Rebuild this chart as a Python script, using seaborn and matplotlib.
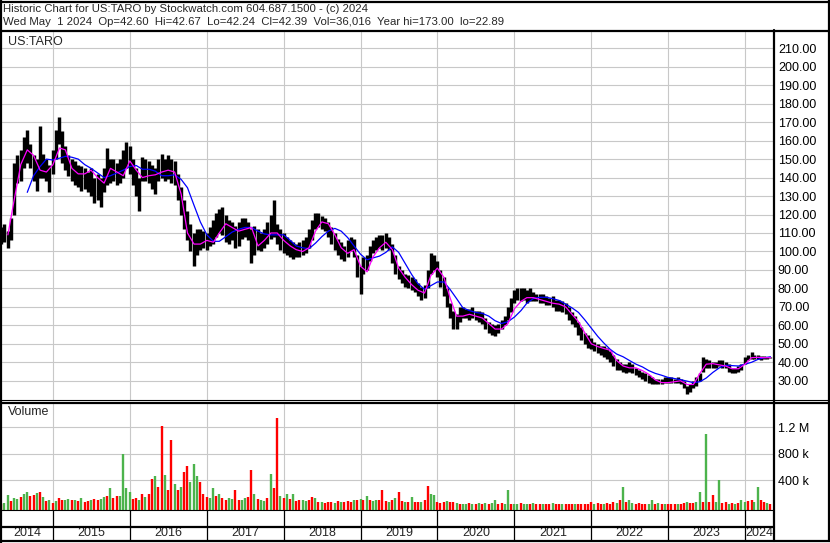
import matplotlib
matplotlib.use("Agg")
import matplotlib.pyplot as plt
from matplotlib.lines import Line2D
import numpy as np
import pandas as pd
import seaborn as sns

sns.set_style("white")
plt.rcParams["font.family"] = ["Liberation Sans", "DejaVu Sans"]

# ---------------- data ----------------
title_line1 = "Historic Chart for US:TARO by Stockwatch.com 604.687.1500 - (c) 2024"
title_line2 = ("Wed May  1 2024  Op=42.60  Hi=42.67  Lo=42.24  Cl=42.39  "
               "Vol=36,016  Year hi=173.00  lo=22.89")
symbol = "US:TARO"
volume_title = "Volume"

# semi-monthly high / low of price (May 2014 .. May 2024)
price_hi = [
    113, 115, 111, 118, 148, 152, 155, 162, 166, 158, 152, 150, 168, 153, 150, 147,
    155, 166, 173, 165, 157, 152, 150, 149, 147, 146, 145, 143, 145, 140, 142, 140, 145, 156, 150, 150, 148, 150, 155, 159,
    157, 150, 145, 140, 151, 150, 149, 147, 145, 150, 153, 150, 152, 150, 149, 142, 135, 128, 122, 115, 110, 112, 112, 111,
    110, 113, 117, 121, 123, 124, 120, 117, 116, 114, 116, 118, 118, 116, 112, 114, 112, 110, 112, 116, 120, 128, 115, 112,
    110, 108, 106, 105, 104, 105, 106, 108, 112, 117, 121, 121, 119, 118, 116, 113, 110, 107, 105, 103, 106, 108, 107, 98,
    92, 97, 98, 103, 106, 108, 109, 109, 110, 108, 104, 98, 92, 90, 88, 87, 86, 85, 83, 81, 82, 90, 99, 98,
    95, 90, 86, 80, 72, 68, 66, 70, 70, 69, 69, 70, 68, 68, 67, 64, 62, 61, 60, 61, 63, 65, 70, 75,
    79, 80, 80, 80, 79, 80, 78, 77, 77, 77, 76, 75, 76, 74, 74, 73, 72, 70, 67, 65, 62, 59, 56, 55,
    53, 51, 50, 49, 49, 48, 46, 44, 42, 40, 39, 39, 40, 39, 37, 36, 35, 34, 33, 32, 31, 31, 31, 32,
    32, 32, 31, 32, 31, 30, 27, 28, 30, 32, 34, 43, 42, 41, 40, 40, 41, 41, 40, 39, 37, 37, 38, 39,
    43, 44, 45.5, 44, 44, 43.5, 43.5, 43, 42.7,
]
price_lo = [
    104, 105, 102, 106, 120, 137, 138, 145, 148, 145, 138, 133, 140, 140, 138, 132,
    142, 150, 158, 148, 144, 141, 138, 136, 135, 133, 134, 132, 130, 126, 128, 124, 132, 136, 137, 138, 136, 137, 140, 145,
    142, 136, 130, 122, 138, 138, 137, 134, 131, 138, 140, 138, 139, 137, 136, 128, 120, 112, 106, 100, 92, 98, 101, 102,
    101, 103, 104, 108, 110, 109, 105, 104, 106, 102, 103, 107, 108, 106, 94, 98, 101, 100, 102, 104, 107, 108, 104, 101,
    99, 98, 97, 96, 97, 97, 98, 99, 102, 106, 112, 113, 112, 111, 108, 104, 101, 98, 96, 95, 97, 100, 97, 86,
    77, 88, 90, 95, 99, 101, 102, 101, 102, 101, 94, 88, 85, 83, 81, 80, 79, 78, 76, 74, 75, 80, 88, 90,
    86, 81, 76, 70, 64, 58, 58, 62, 64, 64, 63, 64, 63, 62, 61, 58, 56, 55, 54, 56, 58, 60, 63, 67,
    72, 74, 73, 74, 72, 73, 73, 73, 72, 72, 71, 71, 70, 68, 68, 67, 66, 63, 61, 59, 55, 52, 50, 48,
    47, 46, 45, 44, 43, 42, 40, 38, 36, 36, 35, 34, 35, 34, 33, 32, 31, 30, 29, 28, 28, 28, 28, 29,
    29, 29, 29, 29, 28, 26, 23, 24, 26, 27, 30, 35, 37, 37, 37, 37, 38, 37, 37, 35, 34, 34, 35, 36,
    39, 41, 42, 42, 42, 41.5, 42, 42, 42.2,
]

# monthly moving averages
ma_short = [
    np.nan, 109, 128, 147, 155, 152, 144, 143,
    147, 156, 155, 145, 142, 142, 144, 140, 137, 145, 143, 141,
    149, 144, 140, 141, 141.5, 143, 144, 143, 131, 110, 104, 104,
    106, 105, 110, 115, 113, 111, 112, 113, 103, 106, 110, 110,
    106, 103, 101, 100, 102, 111, 116, 115, 109, 102, 99, 101,
    92, 89, 97, 102, 105, 101, 91, 86, 82, 79, 77.5, 87,
    91, 86, 75, 65, 65, 66, 65, 64, 61, 58, 58, 61,
    69, 73, 75, 75, 74, 73, 72, 71.5, 70, 66, 62, 56,
    50, 48.5, 47.5, 46.5, 41, 38, 37, 37, 35.5, 33.5, 30.5, 29,
    29, 29.5, 30, 28, 28, 34, 39, 39.3, 38.6, 38, 36.5, 36.5,
    39, 42.5, 42.7, 42.5, 42.5,
]
ma_long = [
    np.nan, np.nan, np.nan, np.nan, 132, 141, 146, 150,
    149.5, 150.5, 151.5, 151, 150, 147, 145, 142.5, 140, 141, 142.5, 144,
    146, 146.5, 144.5, 144.5, 143.5, 141, 141, 141.5, 139, 134.5, 125, 116,
    109, 105.5, 105.5, 108, 110.5, 112, 113, 113, 111, 109.5, 109, 109,
    109, 106, 103, 102, 101.5, 104.5, 108, 111, 112.5, 111, 107.5, 103,
    98.5, 95.5, 96.5, 97.5, 99.5, 102.5, 99.5, 93.5, 87.5, 82.5, 79.5, 81.5,
    83.5, 83.5, 79.5, 74.5, 69.5, 68, 67, 66.5, 65, 62.5, 61, 62,
    64.5, 68, 72, 74.5, 75.2, 75.2, 74.5, 73.5, 71.5, 69.5, 67, 63,
    58.5, 54, 50.5, 47, 44.5, 43, 41, 39, 37.5, 35.5, 34, 33,
    31.8, 31.2, 30.6, 29.8, 29, 29.5, 31.5, 34.5, 37, 38.4, 38.2, 38,
    39, 40, 41.5, 42.5, 43,
]

# semi-monthly volume, thousands of shares
volume_k = [
    50, 60, 180, 90, 140, 120, 150, 200, 230, 160, 180, 210, 220, 150, 90, 100,
    60, 90, 140, 100, 110, 120, 100, 110, 90, 130, 80, 90, 110, 120, 100, 120, 150, 160, 290, 140, 170, 160, 800, 290,
    230, 120, 130, 110, 190, 150, 200, 420, 470, 300, 1220, 480, 260, 1000, 350, 250, 300, 520, 620, 370, 640, 460, 370, 200,
    150, 140, 280, 160, 200, 130, 110, 140, 120, 260, 110, 100, 130, 150, 560, 200, 120, 100, 90, 140, 500, 280, 1340, 160,
    130, 200, 120, 190, 90, 100, 110, 90, 100, 150, 130, 80, 70, 60, 70, 80, 60, 90, 80, 70, 90, 70, 110, 100,
    120, 100, 170, 110, 90, 110, 100, 250, 90, 80, 110, 130, 220, 90, 70, 80, 150, 80, 70, 70, 100, 320, 200, 180,
    80, 60, 80, 90, 70, 80, 60, 50, 50, 50, 60, 50, 40, 60, 50, 60, 50, 60, 110, 50, 60, 50, 250, 50,
    40, 50, 60, 50, 40, 40, 60, 50, 40, 50, 40, 40, 60, 40, 40, 50, 40, 40, 50, 40, 50, 40, 50, 40,
    80, 50, 60, 50, 40, 60, 50, 70, 60, 110, 300, 80, 100, 60, 50, 60, 50, 40, 50, 100, 50, 60, 40, 50,
    40, 40, 50, 40, 40, 60, 70, 60, 60, 80, 220, 80, 1090, 80, 180, 70, 400, 60, 70, 50, 60, 50, 60, 110,
    70, 90, 100, 80, 300, 100, 70, 60, 50,
]
# colour of each volume bar: u = up (green), d = down (red)
volume_dir = (
    "duud" "uudu" "uddu" "dudu"
    "dudd" "uudu" "dudd" "uddu" "udud" "duuu"
    "uddu" "dudd" "uddu" "ddud" "uddu" "uudd"
    "duud" "uddu" "uddu" "uddu" "duud" "uddu"
    "dudu" "dduu" "ddud" "uddd" "udud" "ddud"
    "udud" "uudd" "dudu" "ddud" "uddu" "dduu"
    "dddu" "ddud" "uudu" "dudu" "duud" "duud"
    "uudu" "udud" "dudd" "uddu" "dddu" "dddd"
    "dudd" "uddd" "udud" "uudd" "dduu" "dudu"
    "dddu" "ddud" "duud" "uddu" "uddu" "dudu"
    "uddu" "uddu" "d"
)

price_ticks = list(range(30, 211, 10))
vol_ticks = [400000, 800000, 1200000]
vol_tick_labels = ["400 k", "800 k", "1.2 M"]
years = list(range(2014, 2025))

semi_dates = pd.date_range("2014-05-01", periods=len(price_hi), freq="SMS")
month_dates = pd.date_range("2014-05-01", periods=len(ma_short), freq="MS")

# ---------------- layout ----------------
W, H = 830, 543
fig = plt.figure(figsize=(W / 100, H / 100), dpi=100, facecolor="white")


def rect(x0, y0, x1, y1):
    return [x0 / W, 1 - y1 / H, (x1 - x0) / W, (y1 - y0) / H]


ax_p = fig.add_axes(rect(2, 32, 773, 400))
ax_v = fig.add_axes(rect(2, 404, 773, 510))
ax_x = fig.add_axes(rect(2, 510, 773, 541))

xlim = (pd.Timestamp("2014-05-04"), pd.Timestamp("2024-05-13"))
boundaries = [pd.Timestamp(f"{y}-01-01") for y in years[1:]]
grid_kw = dict(color="#c8c8c8", lw=0.8)
FS = 9

# price panel
ax_p.vlines(semi_dates, price_lo, price_hi, color="black", lw=2.45, zorder=3)
sns.lineplot(x=month_dates, y=ma_long, ax=ax_p, color="#0000ff", lw=0.9,
             estimator=None, sort=False, zorder=4)
sns.lineplot(x=month_dates, y=ma_short, ax=ax_p, color="#ff00ff", lw=0.9,
             estimator=None, sort=False, zorder=5)
ax_p.set_xlim(xlim)
ax_p.set_ylim(19.6, 218.8)
ax_p.set_xticks(boundaries)
ax_p.set_yticks(price_ticks)
ax_p.set_yticklabels([f"{v:.2f}" for v in price_ticks])
ax_p.yaxis.tick_right()
ax_p.tick_params(axis="y", length=0, pad=3.5, labelsize=FS, labelcolor="black")
ax_p.tick_params(axis="x", length=0, labelbottom=False)
ax_p.grid(True, **grid_kw)
ax_p.set_axisbelow(True)
ax_p.set_xlabel("")
ax_p.set_ylabel("")

# volume panel
vol_colors = ["#4cb34c" if c == "u" else "#ff0000" for c in volume_dir]
vol_vals = [v * 1000 for v in volume_k]
ax_v.vlines(semi_dates, -45000, vol_vals, colors=vol_colors, lw=1.7, zorder=3)
ax_v.set_xlim(xlim)
ax_v.set_ylim(-45000, 1.545e6)
ax_v.set_xticks(boundaries)
ax_v.set_yticks(vol_ticks)
ax_v.set_yticklabels(vol_tick_labels)
ax_v.yaxis.tick_right()
ax_v.tick_params(axis="y", length=0, pad=3.5, labelsize=FS, labelcolor="black")
ax_v.tick_params(axis="x", length=0, labelbottom=False)
ax_v.grid(True, **grid_kw)
ax_v.set_axisbelow(True)

# date strip
ax_x.set_xlim(xlim)
ax_x.set_ylim(31, 0)
ax_x.vlines(boundaries, 0, 31, color="black", lw=0.9)
ax_x.set_xticks([])
ax_x.set_yticks([])
for y in years:
    s = max(pd.Timestamp(f"{y}-01-01"), xlim[0])
    e = min(pd.Timestamp(f"{y + 1}-01-01"), xlim[1])
    ax_x.text(s + (e - s) / 2, 23.5, str(y), ha="center", va="center", fontsize=FS)

for ax in (ax_p, ax_v, ax_x):
    for sp in ax.spines.values():
        sp.set_visible(False)

# texts
HFS = 8.2
fig.text(3 / W, 1 - 9 / H, title_line1, ha="left", va="center", fontsize=HFS)
fig.text(3 / W, 1 - 22 / H, title_line2, ha="left", va="center", fontsize=HFS)
fig.text(8 / W, 1 - 42 / H, symbol, ha="left", va="center", fontsize=FS)
fig.text(8 / W, 1 - 412 / H, volume_title, ha="left", va="center", fontsize=FS)


def hline(y, x0, x1, lw):
    fig.add_artist(Line2D([x0 / W, x1 / W], [1 - y / H, 1 - y / H],
                          transform=fig.transFigure, color="black", lw=lw, zorder=10))


def vline(x, y0, y1, lw):
    fig.add_artist(Line2D([x / W, x / W], [1 - y0 / H, 1 - y1 / H],
                          transform=fig.transFigure, color="black", lw=lw, zorder=10))


hline(1.5, 0, W, 1.6)
hline(30.5, 0, W, 1.6)
hline(400, 0, W, 0.8)
hline(402.5, 0, W, 1.6)
hline(510, 0, 774, 0.8)
hline(526.5, 0, 774, 1.6)
hline(541, 0, W, 1.6)
vline(1, 0, 543, 1.6)
vline(774, 30, 541, 1.6)
vline(828.5, 0, 541, 1.6)

fig.savefig("out.png", dpi=100, facecolor="white")
